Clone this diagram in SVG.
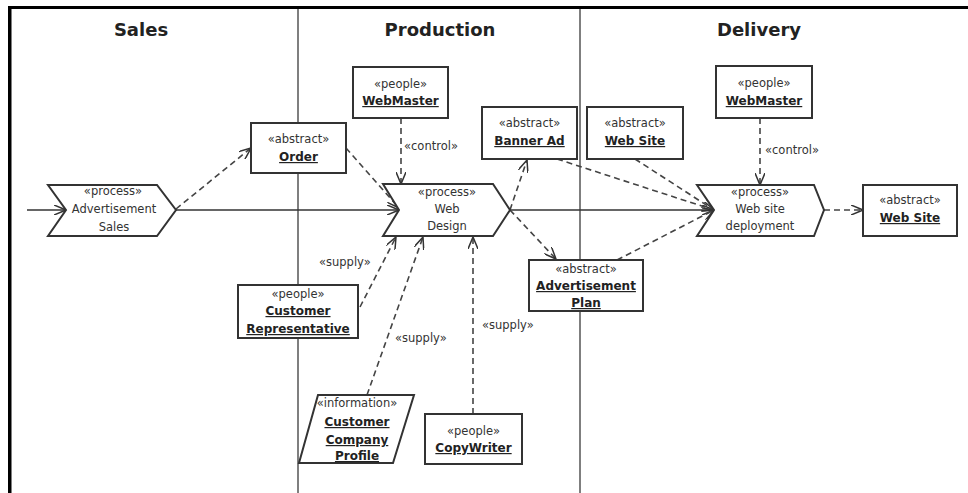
<svg xmlns="http://www.w3.org/2000/svg" width="968" height="493" viewBox="0 0 968 493">
<style>
.frame{fill:#000}
.lane{stroke:#555;stroke-width:1.5}
.hdr{font-family:"DejaVu Sans","Liberation Sans",sans-serif;font-size:18px;font-weight:bold;fill:#222;text-anchor:middle}
.node{fill:#fff;stroke:#333;stroke-width:2}
.st{font-family:"DejaVu Sans","Liberation Sans",sans-serif;font-size:11.5px;fill:#333;text-anchor:middle}
.nm{font-family:"DejaVu Sans","Liberation Sans",sans-serif;font-size:12px;font-weight:bold;fill:#222;text-anchor:middle;text-decoration:underline}
.lbl{font-family:"DejaVu Sans","Liberation Sans",sans-serif;font-size:11.5px;fill:#333}
.solid{fill:none;stroke:#333;stroke-width:1.6;marker-end:url(#arr)}
.dash{fill:none;stroke:#444;stroke-width:1.6;stroke-dasharray:6,4;marker-end:url(#arr)}
</style>
<defs>
<marker id="arr" viewBox="0 0 13 10" refX="12" refY="5" markerWidth="13" markerHeight="10" orient="auto" markerUnits="userSpaceOnUse">
<path d="M0,0 L12,5 L0,10" fill="none" stroke="#333" stroke-width="1.5"/>
</marker>
</defs>
<rect x="0" y="0" width="968" height="493" fill="#fff"/>
<g id="frame">
<rect class="frame" x="8" y="6" width="960" height="3"/>
<rect class="frame" x="8" y="6" width="3.5" height="487"/>
<line class="lane" x1="298" y1="9" x2="298" y2="493"/>
<line class="lane" x1="580" y1="9" x2="580" y2="493"/>
<text class="hdr" x="141" y="36">Sales</text>
<text class="hdr" x="440" y="36">Production</text>
<text class="hdr" x="759" y="36">Delivery</text>
</g>
<g id="connectors">
<line class="solid" x1="27" y1="210" x2="66" y2="210"/>
<line class="solid" x1="176" y1="210" x2="399" y2="210"/>
<line class="solid" x1="510" y1="210" x2="714" y2="210"/>
<line class="dash" x1="176" y1="209" x2="251" y2="148"/>
<line class="dash" x1="346" y1="148" x2="399" y2="208"/>
<line class="dash" x1="401" y1="118" x2="401" y2="184"/>
<line class="dash" x1="510" y1="210" x2="527" y2="160"/>
<line class="dash" x1="510" y1="210" x2="556" y2="259"/>
<line class="dash" x1="557" y1="159" x2="714" y2="210"/>
<line class="dash" x1="635" y1="159" x2="714" y2="210"/>
<line class="dash" x1="617" y1="260" x2="714" y2="210"/>
<line class="dash" x1="760" y1="118" x2="760" y2="185"/>
<line class="dash" x1="824" y1="210" x2="863" y2="210"/>
<line class="dash" x1="360" y1="307" x2="396" y2="237"/>
<line class="dash" x1="367" y1="395" x2="423" y2="237"/>
<line class="dash" x1="473" y1="414" x2="473" y2="237"/>
<text class="lbl" x="404" y="150">«control»</text>
<text class="lbl" x="765" y="154">«control»</text>
<text class="lbl" x="319" y="266">«supply»</text>
<text class="lbl" x="395" y="342">«supply»</text>
<text class="lbl" x="482" y="329">«supply»</text>
</g>
<g id="advertisement-sales">
<path class="node" d="M48,185 H157 L176,210 L157,236 H48 L66,210 Z"/>
<text class="st" x="113" y="195">«process»</text>
<text class="st" x="114" y="213" font-size="12">Advertisement</text>
<text class="st" x="114" y="231" font-size="12">Sales</text>
</g>
<g id="order">
<rect class="node" x="251" y="123" width="95" height="50"/>
<text class="st" x="298.5" y="143">«abstract»</text>
<text class="nm" x="298.5" y="161">Order</text>
</g>
<g id="webmaster-production">
<rect class="node" x="353" y="67" width="95" height="51"/>
<text class="st" x="400.5" y="88">«people»</text>
<text class="nm" x="400.5" y="105">WebMaster</text>
</g>
<g id="banner-ad">
<rect class="node" x="482" y="107" width="95" height="52"/>
<text class="st" x="529.5" y="127">«abstract»</text>
<text class="nm" x="529.5" y="145">Banner Ad</text>
</g>
<g id="web-design">
<path class="node" d="M383,184 H493 L510,210 L493,236 H383 L399,210 Z"/>
<text class="st" x="447" y="196">«process»</text>
<text class="st" x="447" y="213" font-size="12">Web</text>
<text class="st" x="447" y="230" font-size="12">Design</text>
</g>
<g id="web-site-1">
<rect class="node" x="587" y="107" width="96" height="52"/>
<text class="st" x="635" y="127">«abstract»</text>
<text class="nm" x="635" y="145">Web Site</text>
</g>
<g id="webmaster-delivery">
<rect class="node" x="716" y="66" width="96" height="52"/>
<text class="st" x="764" y="87">«people»</text>
<text class="nm" x="764" y="105">WebMaster</text>
</g>
<g id="web-site-deployment">
<path class="node" d="M697,185 H814 L824,210 L814,236 H697 L714,210 Z"/>
<text class="st" x="760" y="196">«process»</text>
<text class="st" x="760" y="213" font-size="12">Web site</text>
<text class="st" x="760" y="230" font-size="12">deployment</text>
</g>
<g id="web-site-2">
<rect class="node" x="863" y="185" width="94" height="51"/>
<text class="st" x="910" y="204">«abstract»</text>
<text class="nm" x="910" y="222">Web Site</text>
</g>
<g id="advertisement-plan">
<rect class="node" x="529" y="260" width="114" height="51"/>
<text class="st" x="586" y="273">«abstract»</text>
<text class="nm" x="586" y="290">Advertisement</text>
<text class="nm" x="586" y="307">Plan</text>
</g>
<g id="customer-representative">
<rect class="node" x="238" y="285" width="120" height="53"/>
<text class="st" x="298" y="298">«people»</text>
<text class="nm" x="298" y="315">Customer</text>
<text class="nm" x="298" y="333">Representative</text>
</g>
<g id="customer-company-profile">
<path class="node" d="M318,395 H414 L393,463 H299 Z"/>
<text class="st" x="357" y="407">«information»</text>
<text class="nm" x="357" y="426">Customer</text>
<text class="nm" x="357" y="444">Company</text>
<text class="nm" x="357" y="460">Profile</text>
</g>
<g id="copywriter">
<rect class="node" x="425" y="414" width="97" height="50"/>
<text class="st" x="473.5" y="435">«people»</text>
<text class="nm" x="473.5" y="452">CopyWriter</text>
</g>
</svg>
